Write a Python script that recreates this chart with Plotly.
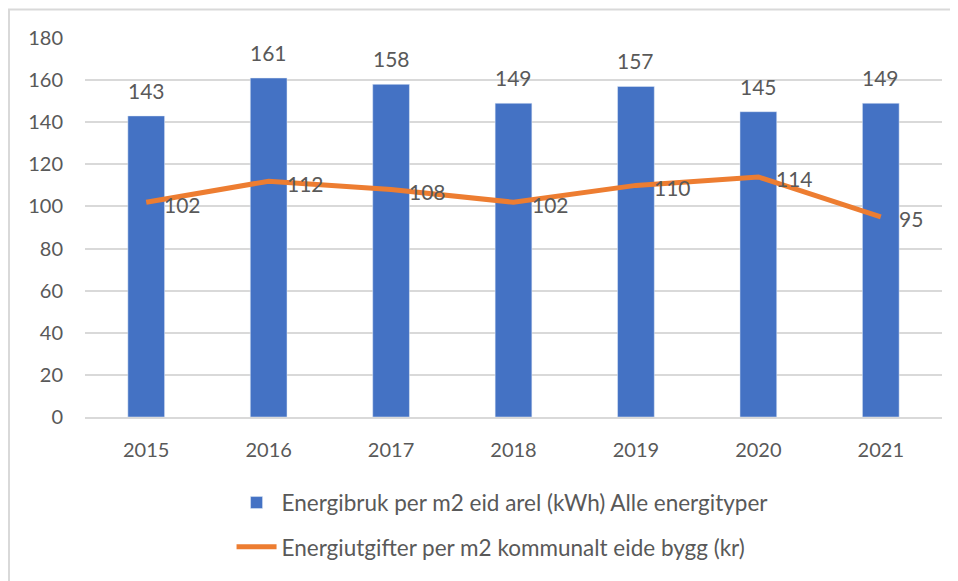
import plotly.graph_objects as go

years = ["2015", "2016", "2017", "2018", "2019", "2020", "2021"]
energibruk = [143, 161, 158, 149, 157, 145, 149]
utgifter = [102, 112, 108, 102, 110, 114, 95]
y_ticks = [0, 20, 40, 60, 80, 100, 120, 140, 160, 180]

name_bar = "Energibruk per m2 eid arel (kWh) Alle energityper"
name_line = "Energiutgifter per m2 kommunalt eide bygg (kr)"

BLUE = "#4472C4"
ORANGE = "#ED7D31"
TXT = "#595959"
FONT = "Lato"

fig = go.Figure()
fig.add_trace(go.Bar(x=years, y=energibruk, name=name_bar, marker_color=BLUE,
                     legendgroup="a"))
fig.add_trace(go.Scatter(x=years, y=utgifter, name=name_line, mode="lines",
                         line=dict(color=ORANGE, width=5), legendgroup="b"))

annotations = []
for i, v in enumerate(energibruk):
    annotations.append(dict(x=i, y=v, xref="x", yref="y", text=str(v), showarrow=False,
                            xanchor="center", yanchor="bottom", yshift=11,
                            font=dict(family=FONT, size=21, color=TXT)))
for i, v in enumerate(utgifter):
    annotations.append(dict(x=i, y=v, xref="x", yref="y", text=str(v), showarrow=False,
                            xanchor="left", yanchor="middle", xshift=16, yshift=-2,
                            font=dict(family=FONT, size=21, color=TXT)))

PL, PR, PT, PB = 77, 934, 30, 414
W, H = 950, 573

fig.update_layout(
    width=W, height=H,
    margin=dict(l=PL, r=W - PR, t=PT, b=H - PB),
    paper_bgcolor="white", plot_bgcolor="white",
    font=dict(family=FONT, size=20, color=TXT),
    bargap=0.7,
    showlegend=True,
    legend=dict(orientation="v", x=0.171, xanchor="left", y=-0.17, yanchor="top",
                font=dict(family=FONT, size=22.5, color=TXT), tracegroupgap=12,
                itemwidth=40),
    annotations=annotations,
    xaxis=dict(type="category", range=[-0.5, len(years) - 0.5], showgrid=False,
               showline=True, linecolor="#D9D9D9", linewidth=1.5, ticks="",
               ticklabelstandoff=14, tickfont=dict(size=20, color=TXT)),
    yaxis=dict(range=[0, 180], tickvals=y_ticks, showgrid=True, gridcolor="#D9D9D9",
               gridwidth=1.5, zeroline=False, showline=False, ticks="",
               ticklabelstandoff=21, tickfont=dict(size=20, color=TXT)),
    shapes=[dict(type="rect", xref="paper", yref="paper",
                 x0=(1 - PL) / (PR - PL), x1=(947 - PL) / (PR - PL),
                 y0=-0.5, y1=(PB - 1) / (PB - PT),
                 line=dict(color="#D9D9D9", width=2), fillcolor="rgba(0,0,0,0)",
                 layer="below")],
)

fig.write_html("out.html")
